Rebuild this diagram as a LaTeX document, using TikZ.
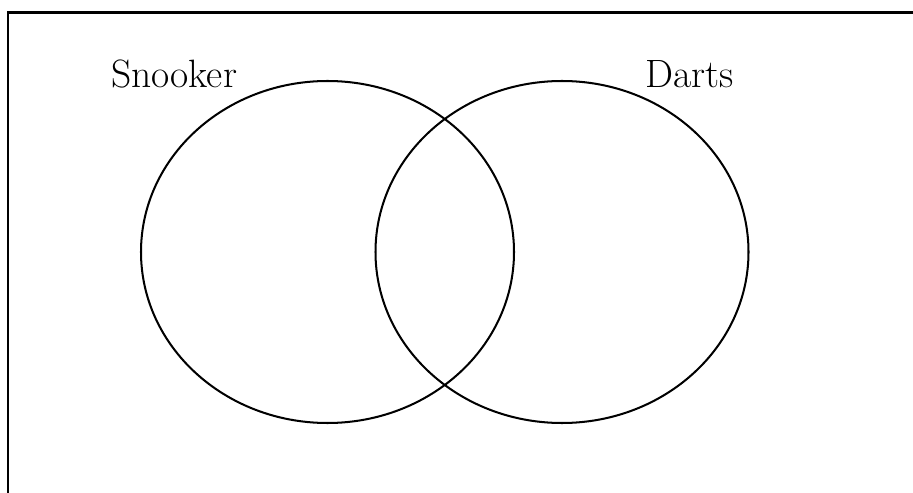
\documentclass[tikz,border=0pt]{standalone}
\usepackage{tikz}
\usetikzlibrary{positioning}

\begin{document}
\begin{tikzpicture}[x=0.02cm,y=-0.02cm,
    setline/.style={line width=1.15pt},
    setlabel/.style={font=\fontsize{22.5}{27}\selectfont, anchor=base, inner sep=0pt}]
  \useasboundingbox (0,0) rectangle (913,493);
  \clip (0,0) rectangle (913,493);
  % frame, only top and left edges fall inside the page
  \draw[line width=1.6pt] (8,12.5) rectangle (960,540);
  % the two sets
  \draw[setline] (327.5,252) ellipse [x radius=186.5, y radius=171];
  \draw[setline] (562,252) ellipse [x radius=186.5, y radius=171];
  \node[setlabel] (snookerlbl) at (174,88) {Snooker};
  \node[setlabel] (dartslbl) at (690,88) {Darts};
\end{tikzpicture}
\end{document}
